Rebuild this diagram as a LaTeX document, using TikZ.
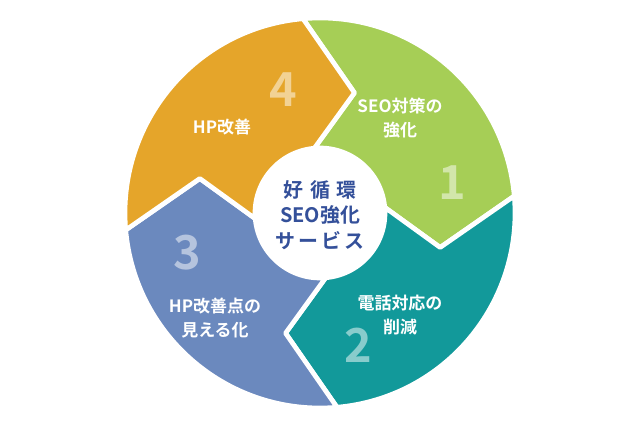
\documentclass[tikz,border=0pt]{standalone}
\usepackage{fontspec}
\newfontfamily\jp{Noto Sans CJK JP Bold}
\definecolor{cg}{HTML}{A6CE56}
\definecolor{ct}{HTML}{12999A}
\definecolor{cb}{HTML}{6B89BE}
\definecolor{co}{HTML}{E5A52A}
\definecolor{cn}{HTML}{34509A}
\tikzset{lab/.style={text=white,font=\jp\fontsize{14.5}{20}\selectfont,align=center},
num/.style={text=white,opacity=0.5,font=\jp\fontsize{40}{40}\selectfont},
seg/.style={fill=#1,draw=white,line width=4pt,line join=round}}
\begin{document}
\begin{tikzpicture}[scale=0.03]
\useasboundingbox (-320,-214) rectangle (320,213);
\foreach \a/\c in {95/cg,5/ct,-85/cb,185/co}{
  \path[seg=\c] (\a:195) arc[start angle=\a,end angle=\a-90,radius=195] -- (\a-111:125) -- (\a-90:65) arc[start angle=\a-90,end angle=\a,radius=65] -- (\a-21:125) -- cycle;
}
\fill[white] (0,0) circle[radius=66];
\node[lab] (s1) at (80,95) {SEO対策の\\強化};
\node[num] (n1) at (132,30) {1};
\node[lab] (s2) at (80,-102) {電話対応の\\削減};
\node[num] (n2) at (38,-132) {2};
\node[lab] (s3) at (-105,-105) {HP改善点の\\見える化};
\node[num] (n3) at (-133,-40) {3};
\node[lab] (s4) at (-98,86) {HP改善};
\node[num] (n4) at (-37,123) {4};
\node[text=cn,font=\jp\fontsize{17}{22}\selectfont,align=center] (c) at (0,-2) {好\,\,循\,\,環\\SEO強化\\サ\,ー\,ビ\,ス};
\end{tikzpicture}
\end{document}
